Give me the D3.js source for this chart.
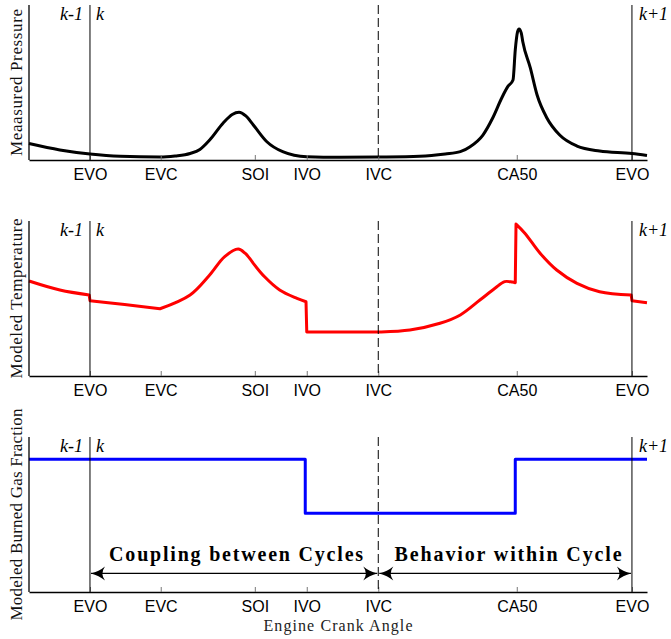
<!DOCTYPE html>
<html>
<head>
<meta charset="utf-8">
<script src="https://cdn.jsdelivr.net/npm/d3@7"></script>
<style>
  html, body { margin: 0; padding: 0; background: #fff; }
  svg { display: block; }
</style>
</head>
<body>
<script>
// ---------- data ----------
const tickNames = ["EVO", "EVC", "SOI", "IVO", "IVC", "CA50", "EVO"];
const tickAngles = [0, 94, 219, 288, 383, 567, 720];

const panelLabels = ["Meaasured Pressure", "Modeled Temperature", "Modeled Burned Gas Fraction"];
const cycleLabels = ["k-1", "k", "k+1"];
const phaseLabels = ["Coupling between Cycles", "Behavior within Cycle"];
const xTitle = "Engine Crank Angle";

const pressureAngle = [-81, -40, 0, 40, 93, 113, 133, 146, 159, 177, 189, 198, 207, 217, 235, 256, 288, 332, 383, 438, 472, 492, 505, 522, 535, 547, 555, 562, 565, 568, 570, 573, 575, 585, 594, 607, 624, 647, 677, 720, 740];
const pressureValue = [10.6, 6.5, 3.9, 2.4, 1.9, 2.6, 4.2, 6.8, 12.9, 23.9, 29.4, 30.8, 28.4, 22.6, 11.8, 5.4, 2.1, 1.7, 1.9, 2.4, 3.9, 5.4, 8.6, 16.1, 27.1, 40, 47.3, 51.6, 71, 82.6, 84.5, 81.9, 76.3, 59.4, 41.9, 27.1, 16.1, 9, 5.8, 4.2, 2.9];

// temperature, split into smooth pieces (jumps / corners between pieces)
const temperatureAngle = [
  [-81, -40, -1],
  [0, 46, 93],
  [93, 133, 159, 179, 197, 206, 217],
  [217, 232, 252, 275, 287],
  [288, 340, 383, 425, 465, 492, 518, 538, 551, 561, 565],
  [566, 578, 598, 620, 647, 677, 719],
  [720, 740]
];
const temperatureValue = [
  [61.3, 55.5, 52.3],
  [48.6, 46.1, 43.4],
  [43.4, 52.3, 65.2, 77, 81.9, 79.2, 72.7],
  [72.7, 64, 55.5, 50.1, 47.9],
  [28.4, 28.4, 28.4, 29.7, 34, 39.4, 49, 56.6, 60.9, 60.6, 60.2],
  [98, 92, 79.2, 68.4, 59.8, 54.4, 52.3],
  [48.6, 47.3]
];

const burnedAngle = [-81, 286, 565, 740];
const burnedValue = [85.6, 50.8, 85.6, 85.6];

// ---------- layout ----------
const W = 671, H = 639;
const left = 29, right = 647;
const panelTops = [5, 221, 437];
const panelH = 155;
const labelLengths = [147, 160, 212];

const svg = d3.select("body").append("svg").attr("width", W).attr("height", H);

const x = d3.scaleLinear().domain([-81, 740]).range([left, right]);

const defs = svg.append("defs");
defs.append("marker")
  .attr("id", "arr")
  .attr("markerUnits", "userSpaceOnUse")
  .attr("viewBox", "-16 -8 17 16")
  .attr("refX", 0).attr("refY", 0)
  .attr("markerWidth", 17).attr("markerHeight", 16)
  .attr("orient", "auto-start-reverse")
  .append("path")
  .attr("d", "M0,0 Q-8,-2 -14,-7 Q-9,0 -14,7 Q-8,2 0,0 Z")
  .attr("fill", "#000");

function piecesPath(angles, values, y, curve) {
  let d = "";
  angles.forEach((arr, k) => {
    const pts = arr.map((a, i) => [a, values[k][i]]);
    const seg = d3.line().x(p => x(p[0])).y(p => y(p[1])).curve(curve)(pts);
    d += (k === 0 ? seg : "L" + seg.slice(1));
  });
  return d;
}

panelTops.forEach((top, p) => {
  const bottom = top + panelH;
  const y = d3.scaleLinear().domain([0, 100]).range([bottom, top]);
  const g = svg.append("g");

  // curve
  let d, color;
  if (p === 0) {
    color = "#000";
    d = d3.line().x(v => x(v[0])).y(v => y(v[1])).curve(d3.curveMonotoneX)(pressureAngle.map((a, i) => [a, pressureValue[i]]));
  } else if (p === 1) {
    color = "#ff0000";
    d = piecesPath(temperatureAngle, temperatureValue, y, d3.curveCatmullRom.alpha(0.5));
  } else {
    color = "#0000ff";
    d = d3.line().x(v => x(v[0])).y(v => y(v[1])).curve(d3.curveStepAfter)(burnedAngle.map((a, i) => [a, burnedValue[i]]));
  }
  g.append("path")
    .attr("fill", "none")
    .attr("stroke", color)
    .attr("stroke-width", 3)
    .attr("stroke-linejoin", "round")
    .attr("d", d);

  // axis
  const ax = g.append("g")
    .attr("transform", `translate(0,${bottom})`)
    .call(d3.axisBottom(x)
      .tickValues(tickAngles)
      .tickFormat((d, i) => tickNames[i])
      .tickSizeInner(-5)
      .tickSizeOuter(0)
      .tickPadding(9));
  ax.select(".domain").attr("stroke", "#000").attr("stroke-width", 1.3);
  ax.selectAll(".tick line").attr("stroke", "#777");
  ax.selectAll(".tick text")
    .attr("font-family", "Liberation Sans, Arial, sans-serif")
    .attr("font-size", 16)
    .attr("fill", "#000");

  // left spine
  g.append("line")
    .attr("x1", left).attr("x2", left)
    .attr("y1", top).attr("y2", bottom)
    .attr("stroke", "#000").attr("stroke-width", 1.3);

  // cycle boundary lines
  [0, 720].forEach(a => {
    g.append("line")
      .attr("x1", x(a)).attr("x2", x(a))
      .attr("y1", top).attr("y2", bottom)
      .attr("stroke", "#000").attr("stroke-width", 1);
  });
  g.append("line")
    .attr("x1", x(383)).attr("x2", x(383))
    .attr("y1", top).attr("y2", bottom)
    .attr("stroke", "#000").attr("stroke-width", 1)
    .attr("stroke-dasharray", "9,4");

  // cycle labels
  const lab = g.append("g")
    .attr("font-family", "Liberation Serif, Times New Roman, serif")
    .attr("font-style", "italic")
    .attr("font-size", 18)
    .attr("fill", "#000");
  lab.append("text").attr("x", x(0) - 7).attr("y", top + 15).attr("text-anchor", "end").text(cycleLabels[0]);
  lab.append("text").attr("x", x(0) + 6).attr("y", top + 15).text(cycleLabels[1]);
  lab.append("text").attr("x", x(720) + 7).attr("y", top + 15).text(cycleLabels[2]);

  // y label
  g.append("text")
    .attr("transform", `translate(22,${top + panelH / 2}) rotate(-90)`)
    .attr("text-anchor", "middle")
    .attr("font-family", "Liberation Serif, Times New Roman, serif")
    .attr("font-size", 17)
    .attr("textLength", labelLengths[p])
    .attr("lengthAdjust", "spacing")
    .attr("fill", "#111")
    .text(panelLabels[p]);

  // arrows in bottom panel
  if (p === 2) {
    const ay = y(12);
    [[0, 383], [383, 720]].forEach(([a0, a1], k) => {
      g.append("line")
        .attr("x1", x(a0) + 1).attr("x2", x(a1) - 1)
        .attr("y1", ay).attr("y2", ay)
        .attr("stroke", "#000").attr("stroke-width", 1.2)
        .attr("marker-start", "url(#arr)")
        .attr("marker-end", "url(#arr)");
      g.append("text")
        .attr("x", (x(a0) + x(a1)) / 2 + (k === 0 ? 2 : 3))
        .attr("y", ay - 12)
        .attr("text-anchor", "middle")
        .attr("font-family", "Liberation Serif, Times New Roman, serif")
        .attr("font-weight", "bold")
        .attr("font-size", 20)
        .attr("textLength", k === 0 ? 254 : 227)
        .attr("lengthAdjust", "spacing")
        .attr("fill", "#000")
        .text(phaseLabels[k]);
    });
  }
});

svg.append("text")
  .attr("x", (left + right) / 2)
  .attr("y", 631)
  .attr("text-anchor", "middle")
  .attr("font-family", "Liberation Serif, Times New Roman, serif")
  .attr("font-size", 16)
  .attr("textLength", 149)
  .attr("lengthAdjust", "spacing")
  .attr("fill", "#222")
  .text(xTitle);
</script>
</body>
</html>
